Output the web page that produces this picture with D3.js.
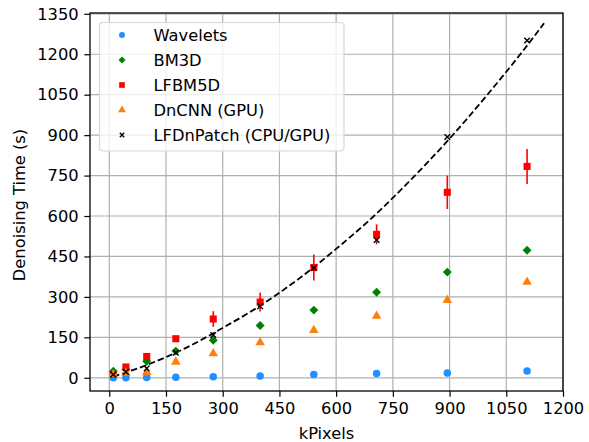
<!DOCTYPE html>
<meta charset="utf-8">
<script src="https://d3js.org/d3.v7.min.js"></script>
<style>
body { margin: 0; background: #fff; }
text { font-family: "DejaVu Sans", sans-serif; }
</style>
<body>
<div id="chart"></div>
<script>

// data
var kPixels   = [10.6, 44, 99, 176, 275, 399, 541, 707, 894, 1105];
var wavelets  = [0, 0.5, 1, 2, 4, 7, 12, 16, 18, 25];
var bm3d      = [24, 31, 61, 99, 139, 194, 251, 317, 392, 473];
var lfbm5d    = [13, 40, 79, 145, 218, 281, 409, 532, 688, 784];
var lfbm5dErr = [3, 5, 6, 10, 29, 35, 48, 37, 62, 65];
var dncnn     = [12, 18, 20, 59, 90, 131, 176, 229, 288, 355];
var lfdnpatch = [12, 22, 35, 93, 159, 265, 407, 511, 893, 1251];

// dashed fit curve
var fitX = [10, 100, 200, 300, 400, 500, 600, 700, 800, 900, 1000, 1100, 1150];
var fitY = [4, 48, 109, 185, 268, 366, 478, 600, 738, 887, 1050, 1223, 1315];

var xTicks = [0, 150, 300, 450, 600, 750, 900, 1050, 1200];
var yTicks = [0, 150, 300, 450, 600, 750, 900, 1050, 1200, 1350];

var W = 589, H = 442;
var fs = "16.3px";
var margin = {top: 13, right: 26, bottom: 51, left: 90},
    width = W - margin.left - margin.right,
    height = H - margin.top - margin.bottom;

var svg = d3.select("#chart")
  .append("svg")
    .attr("width", W)
    .attr("height", H)
  .append("g")
    .attr("transform", "translate(" + margin.left + "," + margin.top + ")");

var x = d3.scaleLinear().domain([-51, 1200]).range([0, width]);
var y = d3.scaleLinear().domain([-49, 1353]).range([height, 0]);

// grid
svg.append("g").selectAll("line.gx")
  .data(xTicks).enter().append("line")
    .attr("x1", function(d) { return x(d); })
    .attr("x2", function(d) { return x(d); })
    .attr("y1", 0).attr("y2", height)
    .attr("stroke", "#b0b0b0").attr("stroke-width", 1.2);
svg.append("g").selectAll("line.gy")
  .data(yTicks).enter().append("line")
    .attr("y1", function(d) { return y(d); })
    .attr("y2", function(d) { return y(d); })
    .attr("x1", 0).attr("x2", width)
    .attr("stroke", "#b0b0b0").attr("stroke-width", 1.2);

// axes
var xAxis = svg.append("g")
  .attr("transform", "translate(0," + height + ")")
  .call(d3.axisBottom(x).tickValues(xTicks).tickFormat(d3.format("d")).tickSize(5.7).tickPadding(5.7));
var yAxis = svg.append("g")
  .call(d3.axisLeft(y).tickValues(yTicks).tickFormat(d3.format("d")).tickSize(5.7).tickPadding(5.7));
[xAxis, yAxis].forEach(function(a) {
  a.select(".domain").remove();
  a.selectAll("text").style("font-size", fs).attr("fill", "#000");
  a.selectAll("line").attr("stroke", "#000").attr("stroke-width", 1.2);
});

// frame
svg.append("rect")
  .attr("width", width).attr("height", height)
  .attr("fill", "none").attr("stroke", "#000").attr("stroke-width", 1.3);

svg.append("text")
  .attr("x", width / 2).attr("y", height + 48)
  .attr("text-anchor", "middle")
  .style("font-size", fs)
  .text("kPixels");
svg.append("text")
  .attr("transform", "rotate(-90)")
  .attr("x", -(205 - margin.top)).attr("y", -64.6)
  .attr("text-anchor", "middle")
  .style("font-size", fs)
  .text("Denoising Time (s)");

// fit line
var line = d3.line()
  .x(function(d) { return x(d[0]); })
  .y(function(d) { return y(d[1]); })
  .curve(d3.curveMonotoneX);
svg.append("path")
  .datum(d3.zip(fitX, fitY))
  .attr("d", line)
  .attr("fill", "none")
  .attr("stroke", "#000")
  .attr("stroke-width", 1.8)
  .attr("stroke-dasharray", "6.5,3");

// markers
var sym = {
  circle: d3.symbol().type(d3.symbolCircle).size(44),
  diamond: d3.symbol().type(d3.symbolSquare).size(40),
  square: d3.symbol().type(d3.symbolSquare).size(50),
  triangle: d3.symbol().type(d3.symbolTriangle).size(40),
  cross: d3.symbol().type(d3.symbolX).size(22)
};
var legendSym = {
  circle: d3.symbol().type(d3.symbolCircle).size(28),
  diamond: d3.symbol().type(d3.symbolSquare).size(24),
  square: d3.symbol().type(d3.symbolSquare).size(32),
  triangle: d3.symbol().type(d3.symbolTriangle).size(26),
  cross: d3.symbol().type(d3.symbolX).size(14)
};

var series = [
  {name: "Wavelets", vals: wavelets, color: "#1e90ff", shape: "circle"},
  {name: "BM3D", vals: bm3d, color: "#008000", shape: "diamond"},
  {name: "LFBM5D", vals: lfbm5d, color: "#ff0000", shape: "square", err: lfbm5dErr},
  {name: "DnCNN (GPU)", vals: dncnn, color: "#ff7f0e", shape: "triangle"},
  {name: "LFDnPatch (CPU/GPU)", vals: lfdnpatch, color: "#000000", shape: "cross"}
];

function drawMarker(g, s, table) {
  var p = g.append("path").attr("d", table[s.shape]());
  if (s.shape == "cross") {
    p.attr("fill", "none").attr("stroke", s.color).attr("stroke-width", 1.4);
  } else {
    p.attr("fill", s.color);
  }
  if (s.shape == "diamond") p.attr("transform", "rotate(45)");
  return p;
}

series.forEach(function(s) {
  var g = svg.append("g");
  kPixels.forEach(function(k, i) {
    if (s.err) {
      g.append("line")
        .attr("x1", x(k)).attr("x2", x(k))
        .attr("y1", y(s.vals[i] - s.err[i]))
        .attr("y2", y(s.vals[i] + s.err[i]))
        .attr("stroke", s.color).attr("stroke-width", 1.6);
    }
    var m = g.append("g").attr("transform", "translate(" + x(k) + "," + y(s.vals[i]) + ")");
    drawMarker(m, s, sym);
  });
});

// legend
var lg = svg.append("g").attr("transform", "translate(" + (99.5 - margin.left) + "," + (22.5 - margin.top) + ")");
lg.append("rect")
  .attr("width", 244.5).attr("height", 128.5)
  .attr("rx", 3.5).attr("ry", 3.5)
  .attr("fill", "#fff").attr("fill-opacity", 0.8)
  .attr("stroke", "#d6d6d6").attr("stroke-width", 1.2);
series.forEach(function(s, i) {
  var row = lg.append("g").attr("transform", "translate(0," + (12.5 + i * 25) + ")");
  var m = row.append("g").attr("transform", "translate(22.5,0)");
  drawMarker(m, s, legendSym);
  row.append("text")
    .attr("x", 54).attr("y", 0).attr("dy", "0.36em")
    .style("font-size", fs)
    .text(s.name);
});

</script>
</body>
